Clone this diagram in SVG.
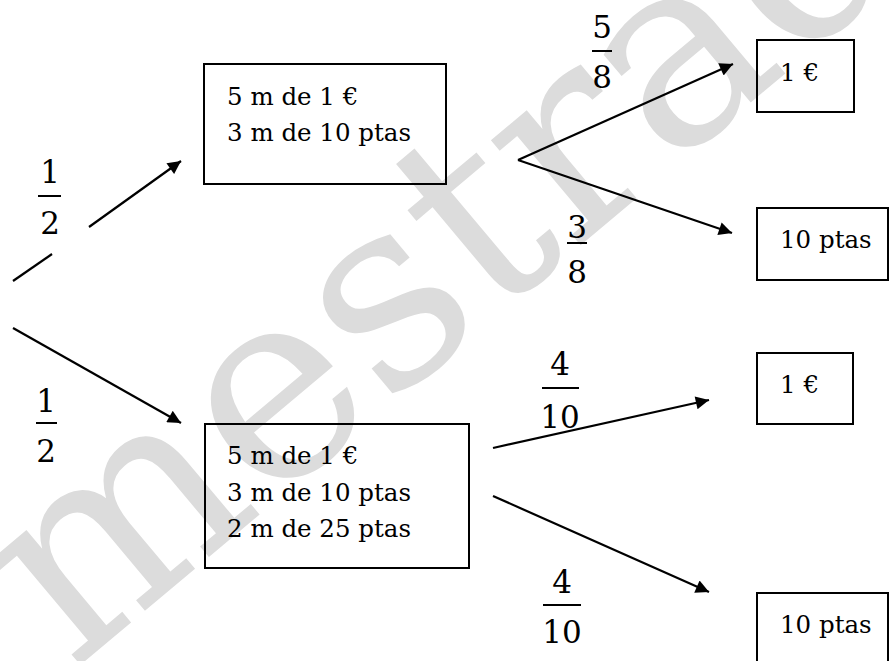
<svg xmlns="http://www.w3.org/2000/svg" width="891" height="661" viewBox="0 0 891 661">
<style>
.box{fill:none;stroke:#000;stroke-width:2}
.t{font-family:'DejaVu Serif',serif;font-size:24.5px;fill:#000}
.f{font-family:'DejaVu Serif',serif;font-size:31px;fill:#000;text-anchor:middle}
.bar{stroke:#000;stroke-width:2}
.c line{stroke:#000;stroke-width:2.2}
.wm{font-family:'DejaVu Serif',serif;font-size:266px;fill:#dcdcdc}
</style>
<defs>
<marker id="ah" viewBox="0 0 10 10" refX="10" refY="5" markerWidth="7" markerHeight="6" markerUnits="strokeWidth" orient="auto">
<path d="M0,0 L10,5 L0,10 z" fill="#000"/>
</marker>
</defs>
<rect width="891" height="661" fill="#fff"/>
<text class="wm" x="72" y="672" transform="rotate(-40 72 672)">mestrada</text>

<g id="connectors" class="c">
<line x1="89" y1="227" x2="181" y2="161" marker-end="url(#ah)"/>
<line x1="13" y1="281" x2="52" y2="254"/>
<line x1="13" y1="328" x2="181" y2="423" marker-end="url(#ah)"/>
<line x1="518" y1="160" x2="733" y2="64" marker-end="url(#ah)"/>
<line x1="518" y1="160" x2="732" y2="233" marker-end="url(#ah)"/>
<line x1="493" y1="448" x2="709" y2="400" marker-end="url(#ah)"/>
<line x1="493" y1="496" x2="709" y2="592" marker-end="url(#ah)"/>
</g>

<g id="frac-top-half">
<text class="f" x="50" y="183">1</text><line class="bar" x1="38" y1="196" x2="61" y2="196"/><text class="f" x="50" y="234">2</text>
</g>
<g id="frac-bottom-half">
<text class="f" x="46" y="412">1</text><line class="bar" x1="36" y1="423" x2="57" y2="423"/><text class="f" x="46" y="462">2</text>
</g>
<g id="frac-5-8">
<text class="f" x="602" y="38">5</text><line class="bar" x1="592" y1="51" x2="612" y2="51"/><text class="f" x="602" y="88">8</text>
</g>
<g id="frac-3-8">
<text class="f" x="577" y="238">3</text><line class="bar" x1="567" y1="243" x2="587" y2="243"/><text class="f" x="577" y="283">8</text>
</g>
<g id="frac-4-10-a">
<text class="f" x="560" y="375">4</text><line class="bar" x1="542" y1="388" x2="579" y2="388"/><text class="f" x="560" y="428">10</text>
</g>
<g id="frac-4-10-b">
<text class="f" x="562" y="593">4</text><line class="bar" x1="543" y1="605" x2="581" y2="605"/><text class="f" x="562" y="643">10</text>
</g>

<g id="box1">
<rect class="box" x="204" y="64" width="242" height="120"/>
<text class="t" x="227" y="105">5 m de 1 €</text>
<text class="t" x="227" y="141">3 m de 10 ptas</text>
</g>
<g id="box2">
<rect class="box" x="205" y="424" width="264" height="144"/>
<text class="t" x="227" y="464">5 m de 1 €</text>
<text class="t" x="227" y="501">3 m de 10 ptas</text>
<text class="t" x="227" y="537">2 m de 25 ptas</text>
</g>
<g id="r1">
<rect class="box" x="757" y="40" width="97" height="72"/>
<text class="t" x="780" y="81">1 €</text>
</g>
<g id="r2">
<rect class="box" x="757" y="208" width="131" height="72"/>
<text class="t" x="780" y="248">10 ptas</text>
</g>
<g id="r3">
<rect class="box" x="757" y="353" width="96" height="71"/>
<text class="t" x="780" y="393">1 €</text>
</g>
<g id="r4">
<rect class="box" x="757" y="593" width="131" height="80"/>
<text class="t" x="780" y="633">10 ptas</text>
</g>
</svg>
